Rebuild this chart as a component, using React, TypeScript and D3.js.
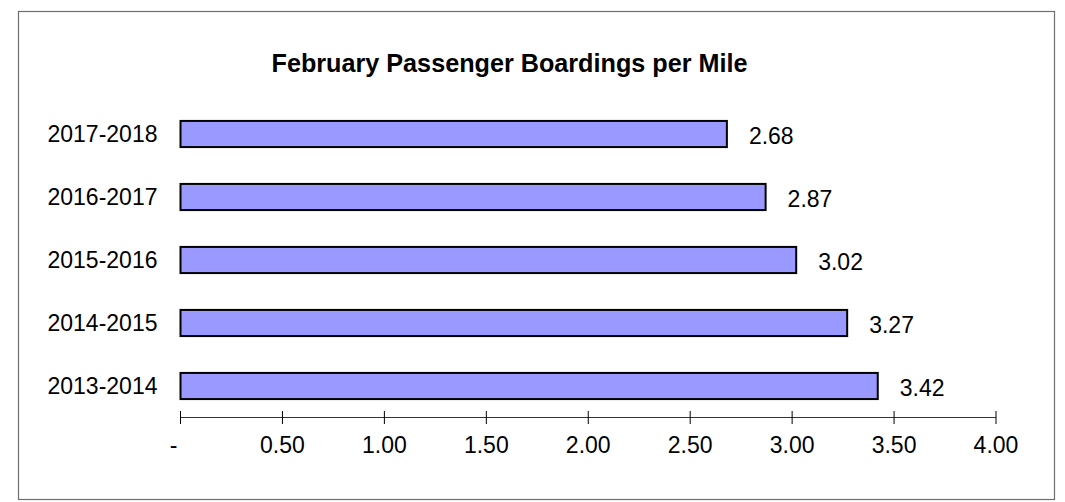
import React from "react";
import * as d3 from "d3";

// February boardings per mile, by fiscal year
const seasons = ["2017-2018", "2016-2017", "2015-2016", "2014-2015", "2013-2014"];
const boardingsPerMile = [2.68, 2.87, 3.02, 3.27, 3.42];
const xTicks = [0, 0.5, 1, 1.5, 2, 2.5, 3, 3.5, 4];

const W = 1065;
const H = 502;
const FONT = "Liberation Sans, Arial, Helvetica, sans-serif";

export default function App() {
  const x = d3.scaleLinear().domain([0, 4]).range([180.5, 996]);
  const y = d3
    .scaleBand<string>()
    .domain(seasons)
    .range([102.5, 417.5])
    .paddingInner(0.585)
    .paddingOuter(0.2925);
  const fmt = (v: number) => (v === 0 ? "-" : d3.format(".2f")(v));
  const axisY = 417.5;

  return (
    <svg
      width={W}
      height={H}
      style={{ position: "absolute", left: 0, top: 0, background: "#fff" }}
      fontFamily={FONT}
    >
      <rect x={18.5} y={11.5} width={1036} height={488} fill="#fff" stroke="#6e6e6e" strokeWidth={1.2} />
      <text x={509.5} y={71.5} textAnchor="middle" fontSize={25.2} fontWeight="bold" fill="#000">
        February Passenger Boardings per Mile
      </text>

      {seasons.map((s, i) => {
        const by = y(s)!;
        const bh = y.bandwidth();
        const v = boardingsPerMile[i];
        return (
          <g key={s}>
            <text x={157.5} y={by + bh / 2} dy="0.36em" textAnchor="end" fontSize={23} fill="#000">
              {s}
            </text>
            <rect
              x={x(0)}
              y={by}
              width={x(v) - x(0)}
              height={bh}
              fill="#9999FF"
              stroke="#000"
              strokeWidth={2}
            />
            <text x={x(v) + 22} y={by + bh / 2 + 2} dy="0.36em" fontSize={23} fill="#000">
              {d3.format(".2f")(v)}
            </text>
          </g>
        );
      })}

      <line x1={x(0)} x2={x(4)} y1={axisY} y2={axisY} stroke="#333" strokeWidth={1} />
      {xTicks.map((t) => (
        <g key={t}>
          <line x1={x(t)} x2={x(t)} y1={axisY - 6.5} y2={axisY + 6.5} stroke="#000" strokeWidth={1} />
          <text
            x={x(t) + (t === 0 ? -7 : 0)}
            y={445}
            dy="0.36em"
            textAnchor="middle"
            fontSize={23}
            fill="#000"
          >
            {fmt(t)}
          </text>
        </g>
      ))}
    </svg>
  );
}
